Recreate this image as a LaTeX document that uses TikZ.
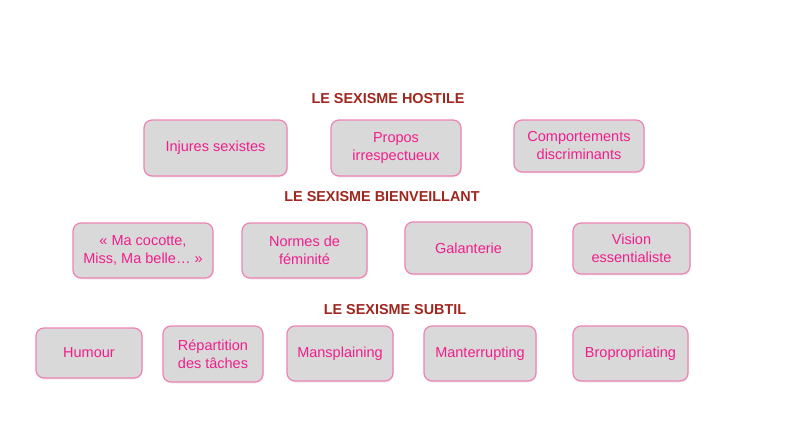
\documentclass[tikz,border=0pt]{standalone}
\usepackage{fontspec}
\setmainfont{Liberation Sans}
\usetikzlibrary{shadows}
\definecolor{titlered}{RGB}{160,38,30}
\definecolor{boxtext}{RGB}{240,30,140}
\definecolor{boxborder}{RGB}{238,130,180}
\definecolor{boxfill}{RGB}{217,217,217}
\tikzset{
  cat/.style={text=titlered, font=\fontsize{14.4}{17}\selectfont\bfseries, inner sep=0pt, anchor=center},
  item/.style={draw=boxborder, line width=1.2pt, fill=boxfill, rounded corners=8pt,
    text=boxtext, font=\fontsize{14.5}{18}\selectfont, align=center, inner sep=0pt,
    drop shadow={opacity=0.12, shadow xshift=0.8pt, shadow yshift=-1.5pt}},
}
\begin{document}
\begin{tikzpicture}[x=1pt,y=-1pt]
\useasboundingbox (0,0) rectangle (792,445);
\fill[white] (0,0) rectangle (792,445);
% titles
\node[cat] (t1) at (388,99) {LE SEXISME HOSTILE};
\node[cat] (t2) at (382,197) {LE SEXISME BIENVEILLANT};
\node[cat] (t3) at (395,310) {LE SEXISME SUBTIL};
% row 1
\node[item, minimum width=143pt, minimum height=56pt] (inj) at (215.5,148) {Injures sexistes};
\node[item, minimum width=130pt, minimum height=56pt] (pro) at (396,148) {Propos\\irrespectueux};
\node[item, minimum width=130pt, minimum height=52pt] (com) at (579,146) {Comportements\\discriminants};
% row 2
\node[item, minimum width=140pt, minimum height=55pt] (coc) at (143,250.5) {« Ma cocotte,\\Miss, Ma belle… »};
\node[item, minimum width=125pt, minimum height=55pt] (nor) at (304.5,250.5) {Normes de\\féminité};
\node[item, minimum width=127pt, minimum height=52pt] (gal) at (468.5,248) {Galanterie};
\node[item, minimum width=117pt, minimum height=51pt] (vis) at (631.5,248.5) {Vision\\essentialiste};
% row 3
\node[item, minimum width=106pt, minimum height=50pt] (hum) at (89,353) {Humour};
\node[item, minimum width=100pt, minimum height=56pt] (rep) at (213,354) {Répartition\\des tâches};
\node[item, minimum width=106pt, minimum height=55pt] (man) at (340,353.5) {Mansplaining};
\node[item, minimum width=112pt, minimum height=55pt] (mant) at (480,353.5) {Manterrupting};
\node[item, minimum width=115pt, minimum height=55pt] (bro) at (630.5,353.5) {Bropropriating};
\end{tikzpicture}
\end{document}
